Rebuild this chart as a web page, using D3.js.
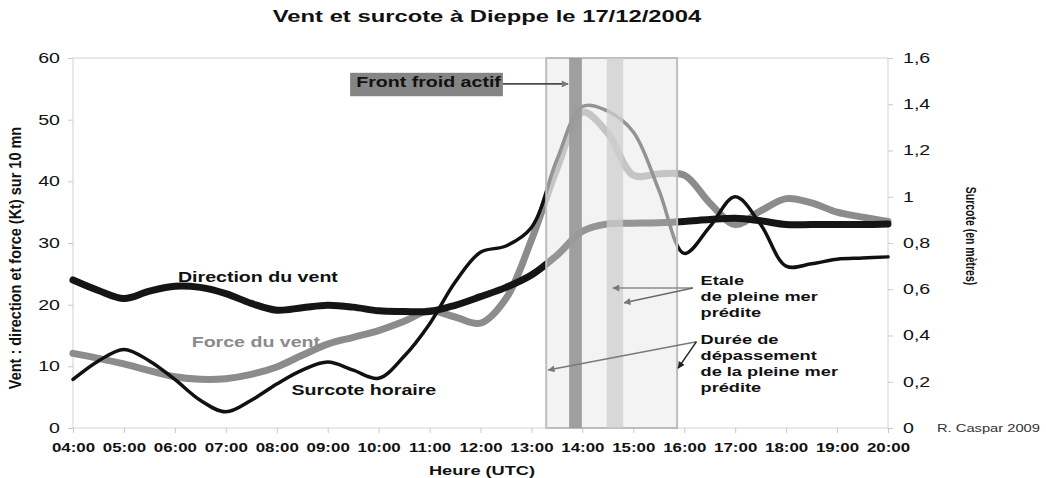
<!DOCTYPE html>
<html>
<head>
<meta charset="utf-8">
<script src="https://cdn.jsdelivr.net/npm/d3@7"></script>
<style>
  body { margin: 0; background: #fff; }
  svg { display: block; font-family: "Liberation Sans", Arial, sans-serif; }
</style>
</head>
<body>
<div id="chart"></div>
<script>
// Vent et surcote a Dieppe le 17/12/2004

var hours = [4, 4.5, 5, 5.5, 6, 6.5, 7, 7.5, 8, 8.5, 9, 9.5, 10, 10.5, 11, 11.5, 12,
             12.5, 13, 13.5, 14, 14.5, 15, 15.5, 16, 16.5, 17, 17.5, 18, 18.5, 19, 19.5, 20];

// direction du vent (plotted on the left axis)
var direction = [24.0, 22.3, 21.0, 22.2, 23.0, 22.8, 21.8, 20.2, 19.1, 19.5, 19.9, 19.6, 19.0,
                 18.9, 18.9, 19.9, 21.3, 22.8, 24.8, 28.0, 31.9, 33.1, 33.2, 33.3, 33.5, 33.8,
                 34.0, 33.6, 33.0, 33.0, 33.0, 33.0, 33.1];

// force du vent (kt)
var force = [12.1, 11.3, 10.4, 9.3, 8.3, 7.9, 8.0, 8.7, 9.9, 11.8, 13.6, 14.7, 15.8, 17.3,
             19.0, 18.0, 17.0, 21.0, 30.5, 42.0, 51.2, 47.8, 41.0, 41.2, 41.0, 36.5, 33.0,
             35.2, 37.2, 36.5, 35.0, 34.2, 33.5];

// surcote horaire (m, right axis)
var surcote = [0.21, 0.29, 0.34, 0.29, 0.21, 0.12, 0.07, 0.12, 0.19, 0.25, 0.285, 0.25, 0.215,
               0.31, 0.45, 0.63, 0.76, 0.787, 0.867, 1.16, 1.39, 1.37, 1.28, 1.03, 0.755, 0.87,
               1.0, 0.88, 0.70, 0.71, 0.73, 0.735, 0.74];

var hourTicks = [4, 5, 6, 7, 8, 9, 10, 11, 12, 13, 14, 15, 16, 17, 18, 19, 20];
var hourLabels = ["04:00", "05:00", "06:00", "07:00", "08:00", "09:00", "10:00", "11:00", "12:00",
                  "13:00", "14:00", "15:00", "16:00", "17:00", "18:00", "19:00", "20:00"];
var leftTicks = [0, 10, 20, 30, 40, 50, 60];
var rightTicks = [0, 0.2, 0.4, 0.6, 0.8, 1, 1.2, 1.4, 1.6];
var rightLabels = ["0", "0,2", "0,4", "0,6", "0,8", "1", "1,2", "1,4", "1,6"];

// time spans shown on the chart (hours)
var depassement = [13.29, 15.86];
var frontFroid = [13.74, 13.99];
var etale = [14.48, 14.80];

var SX = 1.4; // the original text is stretched horizontally

const width = 1046, height = 478;
const pLeft = 73, pRight = 888, pTop = 58, pBottom = 428;

var svg = d3.select("#chart").append("svg")
    .attr("width", width)
    .attr("height", height);

svg.append("rect").attr("width", width).attr("height", height).attr("fill", "#fff");

var x = d3.scaleLinear().domain([4, 20]).range([pLeft, pRight]);
var yL = d3.scaleLinear().domain([0, 60]).range([pBottom, pTop]);
var yR = d3.scaleLinear().domain([0, 1.6]).range([pBottom, pTop]);

var defs = svg.append("defs");
function marker(id, color) {
  defs.append("marker")
      .attr("id", id)
      .attr("viewBox", "0 0 10 10")
      .attr("refX", 9).attr("refY", 5)
      .attr("markerWidth", 9).attr("markerHeight", 7)
      .attr("markerUnits", "userSpaceOnUse")
      .attr("orient", "auto")
    .append("path")
      .attr("d", "M0,0L10,5L0,10z")
      .attr("fill", color);
}
marker("headGrey", "#7a7a7a");
marker("headDark", "#222");

function widen(sel, sx) {
  sel.each(function() {
    var t = d3.select(this);
    var x0 = +t.attr("x") || 0;
    t.attr("x", x0 / sx).attr("transform", "scale(" + sx + ",1)");
  });
}

function label(px, py, lines, size, opt) {
  opt = opt || {};
  var g = svg.append("g")
      .attr("transform", "translate(" + px + "," + py + ") scale(" + (opt.sx || SX) + ",1)" +
            (opt.rot ? " rotate(" + opt.rot + ")" : ""));
  var t = g.append("text")
      .attr("font-size", size)
      .attr("font-weight", opt.normal ? "normal" : "bold")
      .attr("fill", opt.fill || "#111")
      .attr("text-anchor", opt.anchor || "start");
  [].concat(lines).forEach(function(l, i) {
    t.append("tspan").attr("x", 0).attr("dy", i === 0 ? 0 : (opt.lh || 16)).text(l);
  });
  return g;
}

// plot frame
svg.append("rect")
    .attr("x", pLeft).attr("y", pTop)
    .attr("width", pRight - pLeft).attr("height", pBottom - pTop)
    .attr("fill", "none").attr("stroke", "#d2d2d2").attr("stroke-width", 1);

// axes
var axL = svg.append("g").attr("transform", "translate(" + pLeft + ",0)")
    .call(d3.axisLeft(yL).tickValues(leftTicks).tickSize(5).tickPadding(8));
var axR = svg.append("g").attr("transform", "translate(" + pRight + ",0)")
    .call(d3.axisRight(yR).tickValues(rightTicks).tickSize(5).tickPadding(10)
          .tickFormat(function(d, i) { return rightLabels[i]; }));
var axB = svg.append("g").attr("transform", "translate(0," + pBottom + ")")
    .call(d3.axisBottom(x).tickValues(hourTicks).tickSize(5).tickPadding(10)
          .tickFormat(function(d, i) { return hourLabels[i]; }));

[axL, axR, axB].forEach(function(a) {
  a.select(".domain").remove();
  a.selectAll(".tick line").attr("stroke", "#c8c8c8");
  a.selectAll("text").attr("fill", "#111").attr("font-family", "Liberation Sans, Arial, sans-serif");
});
axL.selectAll("text").attr("font-size", 14);
axR.selectAll("text").attr("font-size", 14);
axB.selectAll("text").attr("font-size", 13).attr("font-weight", "bold");
widen(axL.selectAll("text"), SX);
widen(axR.selectAll("text"), SX);
widen(axB.selectAll("text"), 1.3);

// series
var curve = d3.curveCatmullRom.alpha(0.5);
var lineL = function(vals) {
  return d3.line().curve(curve).x(function(d, i) { return x(hours[i]); }).y(function(d) { return yL(d); })(vals);
};
var lineR = function(vals) {
  return d3.line().curve(curve).x(function(d, i) { return x(hours[i]); }).y(function(d) { return yR(d); })(vals);
};

svg.append("path").attr("d", lineL(force))
    .attr("fill", "none").attr("stroke", "#8c8c8c").attr("stroke-width", 7).attr("stroke-linecap", "round");
svg.append("path").attr("d", lineL(direction))
    .attr("fill", "none").attr("stroke", "#151515").attr("stroke-width", 7).attr("stroke-linecap", "round");
svg.append("path").attr("d", lineR(surcote))
    .attr("fill", "none").attr("stroke", "#111").attr("stroke-width", 3.5).attr("stroke-linecap", "round");

// shaded periods
svg.append("rect")
    .attr("x", x(depassement[0])).attr("y", pTop)
    .attr("width", x(depassement[1]) - x(depassement[0])).attr("height", pBottom - pTop)
    .attr("fill", "#ebebeb").attr("fill-opacity", 0.6)
    .attr("stroke", "#bdbdbd").attr("stroke-width", 2);
svg.append("rect")
    .attr("x", x(frontFroid[0])).attr("y", pTop)
    .attr("width", x(frontFroid[1]) - x(frontFroid[0])).attr("height", pBottom - pTop)
    .attr("fill", "#9a9a9a").attr("fill-opacity", 0.95);
svg.append("rect")
    .attr("x", x(etale[0])).attr("y", pTop)
    .attr("width", x(etale[1]) - x(etale[0])).attr("height", pBottom - pTop)
    .attr("fill", "#cfcfcf").attr("fill-opacity", 0.75);

// "Front froid actif" tag
svg.append("rect")
    .attr("x", x(9.44)).attr("y", yL(57.6))
    .attr("width", x(12.44) - x(9.44)).attr("height", yL(53.8) - yL(57.6))
    .attr("fill", "#858585");
label(x(9.56), yL(55.3), "Front froid actif", 14);
svg.append("line")
    .attr("x1", x(12.44)).attr("y1", yL(55.8)).attr("x2", x(13.72)).attr("y2", yL(55.8))
    .attr("stroke", "#4a4a4a").attr("stroke-width", 1.6).attr("marker-end", "url(#headGrey)");

// series labels
label(x(6.06), yL(23.7), "Direction du vent", 14);
label(x(6.33), yL(13.1), "Force du vent", 14, {fill: "#8a8a8a"});
label(x(8.29), yL(5.35), "Surcote horaire", 14);

// tide annotations
label(x(16.32), yL(23.2), ["Etale", "de pleine mer", "prédite"], 13);
label(x(16.32), yL(13.6), ["Durée de", "dépassement", "de la pleine mer", "prédite"], 13);

var arrows = [
  {from: [16.17, 22.7], to: [14.6, 22.7], head: "headGrey", color: "#8a8a8a"},
  {from: [16.17, 22.7], to: [14.82, 20.3], head: "headGrey", color: "#6a6a6a"},
  {from: [16.24, 14.0], to: [13.33, 9.4], head: "headGrey", color: "#7a7a7a"},
  {from: [16.24, 14.0], to: [15.88, 9.7], head: "headDark", color: "#222"}
];
svg.selectAll("line.arrow").data(arrows).enter().append("line")
    .attr("class", "arrow")
    .attr("x1", function(d) { return x(d.from[0]); })
    .attr("y1", function(d) { return yL(d.from[1]); })
    .attr("x2", function(d) { return x(d.to[0]); })
    .attr("y2", function(d) { return yL(d.to[1]); })
    .attr("stroke", function(d) { return d.color; })
    .attr("stroke-width", 1.5)
    .attr("marker-end", function(d) { return "url(#" + d.head + ")"; });

// titles
label(487, 22, "Vent et surcote à Dieppe le 17/12/2004", 17, {anchor: "middle"});
label(482, 475, "Heure (UTC)", 13, {anchor: "middle"});
label(21, 258, "Vent : direction et force (Kt) sur 10 mn", 14.5, {anchor: "middle", rot: -90, sx: 1.15});
label(966, 236, "Surcote (en mètres)", 10.5, {anchor: "middle", rot: 90});
label(937, 432, "R. Caspar 2009", 10.5, {normal: true, fill: "#333"});
</script>
</body>
</html>
